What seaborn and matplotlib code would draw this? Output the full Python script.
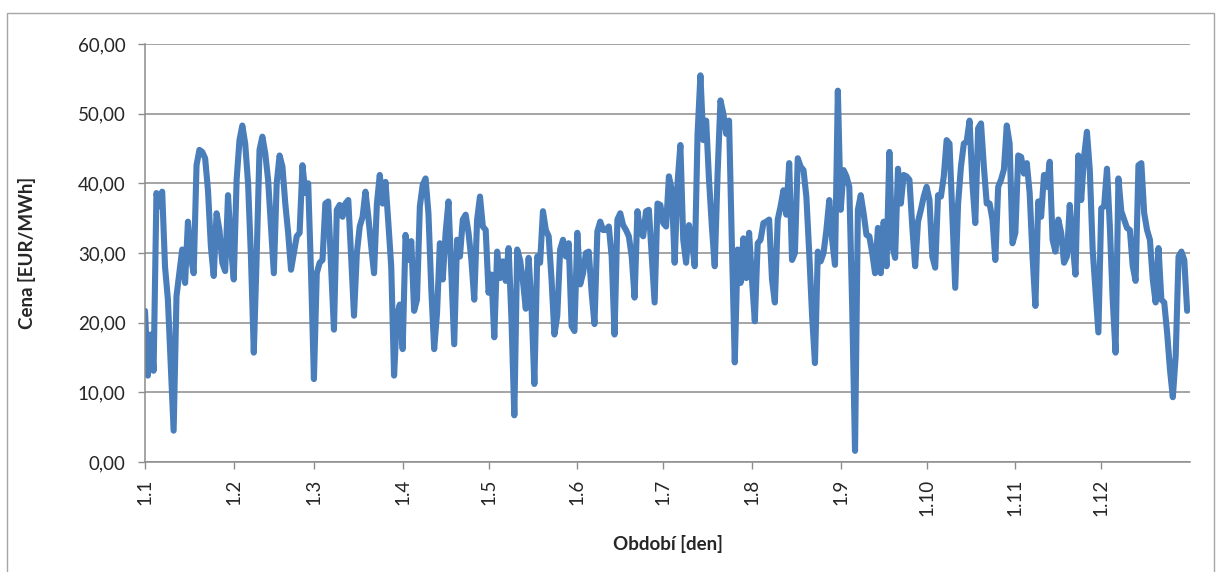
import matplotlib
matplotlib.use("Agg")
import matplotlib.pyplot as plt
from matplotlib.patches import Rectangle
import numpy as np
import pandas as pd
import seaborn as sns

# Daily electricity prices (EUR/MWh), one list per month
jan = [21.7, 12.4, 18.3, 13.1, 38.6, 36.7, 38.8, 28.0, 23.3, 14.0, 4.5, 23.8, 27.1, 30.5, 25.7, 34.5,
       29.5, 27.1, 42.6, 44.8, 44.5, 43.6, 39.0, 31.0, 26.7, 35.7, 33.3, 28.6, 27.4, 38.3, 31.0]
feb = [26.2, 40.5, 46.2, 48.3, 45.7, 40.0, 29.5, 15.7, 29.5, 44.8, 46.7, 44.3, 40.5, 33.8, 27.1, 40.0,
       44.0, 42.4, 37.1, 32.9, 27.6, 30.0, 32.4, 32.9, 42.6, 38.6, 40.0, 27.1]
mar = [11.9, 27.1, 28.6, 29.0, 37.1, 37.4, 28.0, 19.0, 36.2, 36.9, 35.2, 37.1, 37.6, 29.5, 21.0, 30.0,
       33.8, 35.2, 38.8, 35.2, 31.0, 27.1, 37.1, 41.2, 37.1, 40.2, 34.3, 28.1, 12.4, 21.0, 22.6]
apr = [16.2, 32.6, 29.0, 31.7, 21.7, 23.3, 36.7, 39.8, 40.7, 35.7, 24.8, 16.2, 21.4, 31.4, 26.2, 32.9,
       37.4, 27.1, 16.9, 31.9, 29.5, 34.8, 35.5, 32.9, 29.0, 23.3, 34.8, 38.1, 33.8, 33.3]
may = [24.3, 26.9, 17.9, 30.2, 26.4, 28.8, 26.0, 30.7, 20.5, 6.7, 30.5, 29.0, 26.0, 22.0, 29.3, 22.4,
       11.2, 29.5, 28.6, 36.0, 33.3, 32.4, 26.2, 18.3, 21.0, 30.5, 31.9, 29.5, 31.4, 19.5, 18.8]
jun = [32.9, 25.5, 27.1, 30.0, 30.2, 24.3, 19.8, 33.1, 34.5, 33.3, 33.3, 33.8, 29.5, 18.3, 34.8, 35.7,
       34.0, 33.3, 32.4, 29.5, 23.6, 36.0, 33.1, 32.4, 36.0, 36.2, 29.5, 22.9, 37.1, 36.9]
jul = [34.3, 33.8, 41.0, 39.0, 28.6, 40.0, 45.5, 31.9, 28.6, 34.0, 31.9, 28.1, 47.1, 55.5, 46.2, 49.0,
       40.5, 33.8, 28.1, 41.4, 51.9, 50.0, 47.1, 49.0, 31.0, 14.3, 30.5, 25.7, 32.1, 26.4, 32.9]
aug = [26.2, 20.2, 31.4, 31.9, 34.3, 34.5, 34.8, 26.2, 22.9, 34.8, 36.7, 39.0, 35.5, 42.9, 29.0, 30.0,
       43.6, 42.4, 41.9, 38.1, 30.0, 21.0, 14.2, 30.2, 28.8, 30.0, 33.3, 37.6, 31.9, 28.3, 53.3]
sep = [36.2, 41.9, 41.0, 39.5, 22.4, 1.6, 36.2, 38.3, 35.7, 32.6, 32.4, 30.0, 27.1, 33.6, 27.1, 34.5,
       28.1, 44.5, 31.0, 29.3, 42.1, 37.1, 41.2, 41.0, 40.5, 33.8, 28.1, 34.5, 36.2, 38.1]
oct_ = [39.5, 37.6, 29.5, 27.9, 38.3, 38.1, 41.0, 46.2, 45.7, 35.2, 25.0, 37.1, 42.4, 45.7, 46.0, 49.0,
        40.0, 34.3, 47.9, 48.6, 42.4, 37.1, 37.1, 34.8, 29.0, 39.5, 40.5, 42.0, 48.3, 45.7, 31.4]
nov = [32.9, 44.0, 43.8, 41.4, 42.9, 38.6, 29.5, 22.4, 37.4, 35.2, 41.2, 39.5, 43.1, 31.9, 30.2, 34.8,
       32.9, 28.6, 29.5, 36.9, 31.4, 26.9, 44.0, 37.6, 43.8, 47.4, 41.9, 30.5, 24.5, 18.6]
dec = [36.4, 36.7, 42.1, 33.8, 23.3, 15.7, 40.7, 36.0, 34.8, 33.6, 33.3, 28.1, 26.0, 42.6, 42.9, 35.7,
       33.3, 31.9, 26.2, 22.9, 30.7, 23.3, 22.9, 18.6, 13.3, 9.3, 15.2, 29.5, 30.2, 29.0, 21.7]

months = [jan, feb, mar, apr, may, jun, jul, aug, sep, oct_, nov, dec]
month_labels = ["1.1", "1.2", "1.3", "1.4", "1.5", "1.6", "1.7", "1.8", "1.9", "1.10", "1.11", "1.12"]
y_ticks = [0, 10, 20, 30, 40, 50, 60]

prices = [v for m in months for v in m]
month_starts = np.cumsum([0] + [len(m) for m in months[:-1]])
df = pd.DataFrame({"den": np.arange(len(prices)), "cena": prices})

sns.set_theme(style="white")
plt.rcParams["font.family"] = ["Lato", "DejaVu Sans"]

W, H = 1225, 572
fig = plt.figure(figsize=(W / 100, H / 100), dpi=100)
fig.patch.set_facecolor("white")

# outer chart frame
fig.patches.append(Rectangle((7 / W, -0.05), (1214 - 7) / W, (H - 13) / H + 0.05,
                             transform=fig.transFigure, fill=False,
                             edgecolor="#a6a6a6", linewidth=1.0))

ax = fig.add_axes([145 / W, (H - 462) / H, (1190 - 145) / W, (462 - 44) / H])
sns.lineplot(data=df, x="den", y="cena", ax=ax, color="#4a7ebb", linewidth=4.4,
             solid_joinstyle="round", solid_capstyle="round")

ax.set_xlim(0, len(prices))
ax.set_ylim(0, 60)
ax.set_yticks(y_ticks)
ax.set_yticklabels([f"{v:.2f}".replace(".", ",") for v in y_ticks], fontsize=13.5)
ax.set_xticks(month_starts)
ax.set_xticklabels(month_labels, rotation=90, fontsize=13.5)

ax.yaxis.grid(True, color="#8c8c8c", linewidth=1.1)
ax.set_axisbelow(True)
for side in ("top", "right"):
    ax.spines[side].set_visible(False)
for side in ("left", "bottom"):
    ax.spines[side].set_color("#8c8c8c")
    ax.spines[side].set_linewidth(1.1)

ax.tick_params(axis="y", length=5, width=1, color="#8c8c8c", pad=9, left=True)
ax.tick_params(axis="x", length=5, width=1, color="#8c8c8c", pad=7, bottom=True)

ax.set_xlabel("Období [den]", fontsize=13.5, fontweight="bold")
ax.set_ylabel("Cena [EUR/MWh]", fontsize=13.5, fontweight="bold")
ax.xaxis.set_label_coords(0.5, -0.175)
ax.yaxis.set_label_coords(-0.104, 0.5)

fig.savefig("out.png", dpi=100, facecolor="white")
